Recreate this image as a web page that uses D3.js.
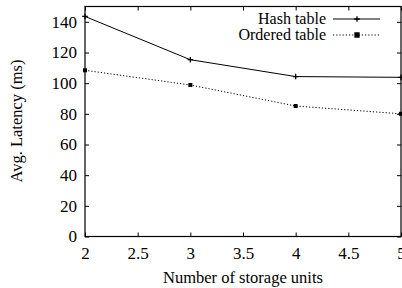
<!DOCTYPE html>
<html>
<head>
<meta charset="utf-8">
<script src="https://cdn.jsdelivr.net/npm/d3@7"></script>
<style>
  body { margin: 0; background: #fff; }
  svg text { font-family: "Liberation Serif", "Times New Roman", serif; fill: #000; }
</style>
</head>
<body>
<svg width="402" height="288"></svg>
<script>
// storage units on x, latency in ms on y
var units = [2, 3, 4, 5];
var hashTable = [143.5, 115.3, 104.3, 103.8];
var orderedTable = [108.4, 98.8, 85.1, 80.0];
var xTicks = [2, 2.5, 3, 3.5, 4, 4.5, 5];
var yTicks = [0, 20, 40, 60, 80, 100, 120, 140];

var svg = d3.select("svg");
var padL = 85, padR = 401, padT = 6.5, padB = 236.5;
var fs = 16;

var x = d3.scaleLinear().domain([2, 5]).range([padL, padR]);
var y = d3.scaleLinear().domain([0, 150]).range([padB, padT]);

// mirrored ticks like gnuplot
svg.append("g")
  .attr("transform", "translate(0," + padB + ")")
  .call(d3.axisBottom(x).tickValues(xTicks).tickSize(-4).tickPadding(10).tickFormat(d3.format("")))
  .call(g => g.select(".domain").remove());
svg.append("g")
  .attr("transform", "translate(0," + padT + ")")
  .call(d3.axisTop(x).tickValues(xTicks).tickSize(-4).tickFormat(""))
  .call(g => g.select(".domain").remove());
svg.append("g")
  .attr("transform", "translate(" + padL + ",0)")
  .call(d3.axisLeft(y).tickValues(yTicks).tickSize(-4).tickPadding(8))
  .call(g => g.select(".domain").remove());
svg.append("g")
  .attr("transform", "translate(" + padR + ",0)")
  .call(d3.axisRight(y).tickValues(yTicks).tickSize(-4).tickFormat(""))
  .call(g => g.select(".domain").remove());

svg.selectAll("g").attr("font-family", null);
svg.selectAll(".tick text").attr("font-size", 17);
svg.selectAll(".tick line").attr("stroke", "#000");

svg.append("rect")
  .attr("x", padL).attr("y", padT)
  .attr("width", padR - padL).attr("height", padB - padT)
  .attr("fill", "none").attr("stroke", "#000").attr("stroke-width", 1.2);

var line = d3.line().x((d, i) => x(units[i])).y(d => y(d));

svg.append("path").datum(hashTable)
  .attr("d", line).attr("fill", "none").attr("stroke", "#000").attr("stroke-width", 1);
svg.append("path").datum(orderedTable)
  .attr("d", line).attr("fill", "none").attr("stroke", "#000")
  .attr("stroke-width", 1).attr("stroke-dasharray", "1.2,2");

// small gnuplot style "+" and filled square
var plusType = { draw: function (ctx) { ctx.moveTo(-2.8, 0); ctx.lineTo(2.8, 0); ctx.moveTo(0, -2.8); ctx.lineTo(0, 2.8); } };
var plus = d3.symbol().type(plusType);
var square = d3.symbol().type(d3.symbolSquare).size(16);

svg.selectAll(".hp").data(hashTable).enter().append("path")
  .attr("d", plus).attr("stroke", "#000").attr("stroke-width", 1.3)
  .attr("transform", (d, i) => "translate(" + x(units[i]) + "," + y(d) + ")");
svg.selectAll(".op").data(orderedTable).enter().append("path")
  .attr("d", square)
  .attr("transform", (d, i) => "translate(" + x(units[i]) + "," + y(d) + ")");

// legend
var legend = [
  { name: "Hash table", dash: null, sym: plus, y: 19 },
  { name: "Ordered table", dash: "1.2,2", sym: square, y: 35 }
];
legend.forEach(function (l) {
  svg.append("text").attr("x", 326).attr("y", l.y + 5)
    .attr("text-anchor", "end").attr("font-size", fs).text(l.name);
  svg.append("line").attr("x1", 333).attr("x2", 380).attr("y1", l.y).attr("y2", l.y)
    .attr("stroke", "#000").attr("stroke-width", 1).attr("stroke-dasharray", l.dash);
  svg.append("path").attr("d", l.sym).attr("stroke", "#000").attr("stroke-width", 1.3)
    .attr("transform", "translate(357," + l.y + ")");
});

// axis titles
svg.append("text").attr("x", 243).attr("y", 283)
  .attr("text-anchor", "middle").attr("font-size", 16.5).text("Number of storage units");
svg.append("text")
  .attr("transform", "translate(22,121) rotate(-90)")
  .attr("text-anchor", "middle").attr("font-size", 16.5).text("Avg. Latency (ms)");
</script>
</body>
</html>
